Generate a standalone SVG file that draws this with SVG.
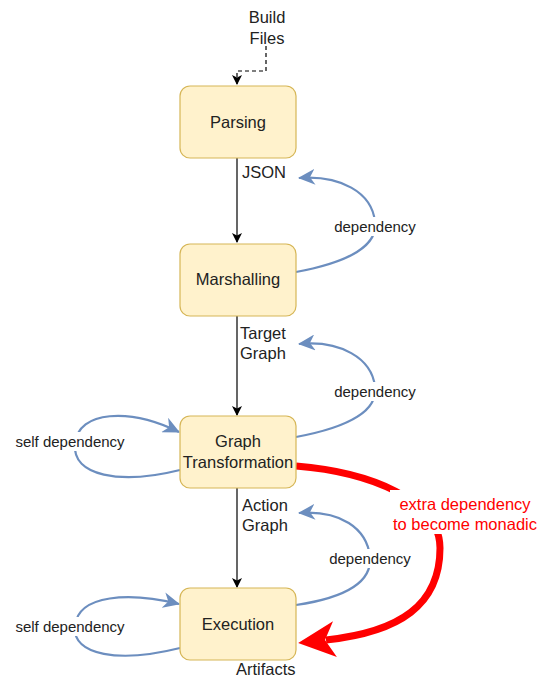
<svg xmlns="http://www.w3.org/2000/svg" width="543" height="678" viewBox="0 0 543 678">
<style>
.node{fill:#fff2cc;stroke:#d6b656;stroke-width:1.2}
.nt{font-family:"Liberation Sans",Arial,sans-serif;font-size:16.5px;fill:#222;text-anchor:middle}
.lbl{font-family:"Liberation Sans",Arial,sans-serif;font-size:16.5px;fill:#222}
.dep{font-family:"Liberation Sans",Arial,sans-serif;font-size:15px;fill:#222;text-anchor:middle}
.red{font-family:"Liberation Sans",Arial,sans-serif;font-size:16.5px;fill:#ff0000;text-anchor:middle}
.blue{fill:none;stroke:#6c8ebf;stroke-width:2.2}
.blk{fill:none;stroke:#000;stroke-width:1.2}
</style>
<defs>
<marker id="ab" markerWidth="10" markerHeight="10" refX="9" refY="5" orient="auto" markerUnits="userSpaceOnUse">
<path d="M0,0 L10,5 L0,10 L2.5,5 z" fill="#000"/>
</marker>
<marker id="ablue" markerWidth="18" markerHeight="16" refX="16" refY="8" orient="auto" markerUnits="userSpaceOnUse">
<path d="M0,0 L17,8 L0,16 L5,8 z" fill="#6c8ebf"/>
</marker>
<marker id="ared" markerWidth="40" markerHeight="36" refX="9" refY="18" orient="auto" markerUnits="userSpaceOnUse">
<path d="M0,0 L37,18 L0,36 L10,18 z" fill="#ff0000"/>
</marker>
</defs>
<rect width="543" height="678" fill="#fff"/>
<g id="connectors">
<path class="blk" d="M266,46 L266,71 L237,71 L237,84" stroke-dasharray="4,3" marker-end="url(#ab)"/>
<path class="blk" d="M237,158 L237,242" marker-end="url(#ab)"/>
<path class="blk" d="M237,316 L237,415" marker-end="url(#ab)"/>
<path class="blk" d="M237,488 L237,587" marker-end="url(#ab)"/>
<path class="blue" d="M296,272 C350,262 378,245 375,222 C372,192 340,175 299,178" marker-end="url(#ablue)"/>
<path class="blue" d="M296,437 C350,427 378,410 375,387 C372,358 340,340 299,344" marker-end="url(#ablue)"/>
<path class="blue" d="M296,605 C350,597 372,580 370,557 C367,528 340,510 299,513" marker-end="url(#ablue)"/>
<path class="blue" d="M180,470 C120,485 72,476 75,444 C78,410 130,408 179,432" marker-end="url(#ablue)"/>
<path class="blue" d="M180,648 C120,663 72,656 75,626 C78,594 130,592 179,604" marker-end="url(#ablue)"/>
<path d="M296,466 C370,472 440,500 440,548 C440,605 400,632 326,640" fill="none" stroke="#ff0000" stroke-width="7" marker-end="url(#ared)"/>
<rect x="330" y="217" width="90" height="19" fill="#fff"/>
<text class="dep" x="375" y="232">dependency</text>
<rect x="330" y="382" width="90" height="19" fill="#fff"/>
<text class="dep" x="375" y="397">dependency</text>
<rect x="325" y="549" width="90" height="19" fill="#fff"/>
<text class="dep" x="370" y="564">dependency</text>
<rect x="8" y="432" width="124" height="19" fill="#fff"/>
<text class="dep" x="70" y="447">self dependency</text>
<rect x="8" y="617" width="124" height="19" fill="#fff"/>
<text class="dep" x="70" y="632">self dependency</text>
<rect x="390" y="490" width="153" height="44" fill="#fff"/>
<text class="red" x="465" y="510">extra dependency</text>
<text class="red" x="465" y="530">to become monadic</text>
<text class="lbl" x="242" y="178">JSON</text>
<text class="lbl" x="240" y="339">Target</text>
<text class="lbl" x="240" y="359">Graph</text>
<text class="lbl" x="242" y="511">Action</text>
<text class="lbl" x="242" y="531">Graph</text>
<text class="lbl" x="236" y="675">Artifacts</text>
<text class="nt" x="267" y="23">Build</text>
<text class="nt" x="267" y="44">Files</text>
</g>
<g id="parsing"><rect class="node" x="180" y="86" width="116" height="72" rx="10"/><text class="nt" x="238" y="128">Parsing</text></g>
<g id="marshalling"><rect class="node" x="180" y="244" width="116" height="72" rx="10"/><text class="nt" x="238" y="285">Marshalling</text></g>
<g id="graph-transformation"><rect class="node" x="180" y="416" width="116" height="72" rx="10"/><text class="nt" x="238" y="447">Graph</text><text class="nt" x="238" y="468">Transformation</text></g>
<g id="execution"><rect class="node" x="180" y="588" width="116" height="72" rx="10"/><text class="nt" x="238" y="630">Execution</text></g>
</svg>
